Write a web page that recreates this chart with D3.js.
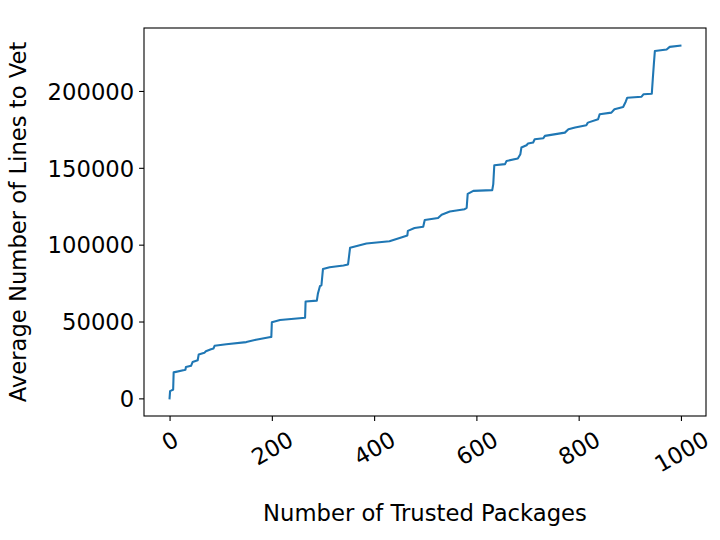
<!DOCTYPE html>
<html>
<head>
<meta charset="utf-8">
<script src="https://cdn.jsdelivr.net/npm/d3@7"></script>
<style>
  html, body { margin: 0; padding: 0; background: #fff; }
  svg text { font-family: "DejaVu Sans", sans-serif; fill: #000; }
</style>
</head>
<body>
<svg id="chart" width="720" height="540"></svg>
<script>
// Breakpoints of the cumulative step curve
const packages = [0, 1, 5, 7, 8, 29, 31, 32, 42, 45, 55, 57, 68, 71, 81, 86, 88, 111, 150, 169, 195, 199,
  200, 216, 265, 266, 288, 290, 294, 297, 300, 313, 340, 349, 353, 385, 430, 453, 465, 466, 479, 496,
  499, 525, 532, 548, 577, 581, 583, 594, 631, 633, 635, 656, 659, 681, 686, 688, 698, 701, 711, 714,
  731, 734, 773, 780, 793, 815, 818, 838, 841, 864, 870, 887, 892, 895, 923, 927, 943, 945, 947, 949,
  972, 978, 999];
const avgLines = [0, 4700, 5400, 5600, 16900, 18400, 18600, 20400, 21200, 23600, 24800, 28600, 29600, 30700, 32000, 32500, 34200, 35200, 36600, 38200, 39800, 40000,
  49500, 51000, 52400, 63000, 63600, 68000, 73000, 73600, 84200, 85300, 86500, 87100, 98000, 100800, 102200, 104700, 106000, 109000, 110800, 111700,
  116000, 117300, 119500, 121600, 123100, 124000, 133000, 135000, 135500, 139400, 151700, 152400, 154500, 156000, 158900, 163200, 164700, 165800, 166500, 168600,
  169300, 170800, 172900, 175100, 176200, 177700, 179400, 181600, 184800, 185900, 188100, 189600, 193000, 195600, 196300, 197900, 198200, 208000, 217300, 226000,
  227000, 228700, 229500];
const xTicks = [0, 200, 400, 600, 800, 1000];
const yTicks = [0, 50000, 100000, 150000, 200000];
const xLabel = "Number of Trusted Packages";
const yLabel = "Average Number of Lines to Vet";

const data = packages.map((p, i) => ({ x: p, y: avgLines[i] }));

const svg = d3.select("#chart");
const L = 144, R = 706, T = 28, B = 416;
const fs = 22.7;
const tickLen = 4.9, pad = 4.9;

const x = d3.scaleLinear().domain([-50, 1049]).range([L, R]);
const y = d3.scaleLinear().domain([-11475, 240975]).range([B, T]);

// line
svg.append("path")
  .datum(data)
  .attr("fill", "none")
  .attr("stroke", "#1f77b4")
  .attr("stroke-width", 2.08)
  .attr("stroke-linejoin", "round")
  .attr("stroke-linecap", "square")
  .attr("d", d3.line().x(d => x(d.x)).y(d => y(d.y)));

// frame
svg.append("rect")
  .attr("x", L).attr("y", T).attr("width", R - L).attr("height", B - T)
  .attr("fill", "none").attr("stroke", "#000").attr("stroke-width", 1.1);

// x axis ticks
const xAxis = svg.append("g").attr("transform", `translate(0,${B})`)
  .call(d3.axisBottom(x).tickValues(xTicks).tickSize(tickLen).tickPadding(pad).tickFormat(d3.format("d")));
xAxis.select(".domain").remove();
xAxis.selectAll(".tick line").attr("stroke", "#000").attr("stroke-width", 1.1);
xAxis.selectAll(".tick text").each(function(d) {
  const t = d3.select(this);
  t.attr("font-size", fs).attr("font-family", "DejaVu Sans").attr("fill", "#000")
   .attr("text-anchor", "middle").attr("dy", null).attr("y", null);
  const w = this.getComputedTextLength();
  const h = fs * 1.17;
  const rad = Math.PI / 6;
  const rh = w * Math.sin(rad) + h * Math.cos(rad);
  const cy = tickLen + pad + rh / 2;
  t.attr("dominant-baseline", "central")
   .attr("transform", `translate(0,${cy}) rotate(-30)`);
});

// y axis ticks
const yAxis = svg.append("g").attr("transform", `translate(${L},0)`)
  .call(d3.axisLeft(y).tickValues(yTicks).tickSize(tickLen).tickPadding(pad).tickFormat(d3.format("d")));
yAxis.select(".domain").remove();
yAxis.selectAll(".tick line").attr("stroke", "#000").attr("stroke-width", 1.1);
yAxis.selectAll(".tick text")
  .attr("font-size", fs).attr("font-family", "DejaVu Sans").attr("fill", "#000")
  .attr("dy", "0.36em");

// axis labels
svg.append("text")
  .attr("x", (L + R) / 2).attr("y", 521)
  .attr("text-anchor", "middle").attr("font-size", fs)
  .text(xLabel);
svg.append("text")
  .attr("transform", `translate(25.5,${(T + B) / 2}) rotate(-90)`)
  .attr("text-anchor", "middle").attr("font-size", fs)
  .text(yLabel);
</script>
</body>
</html>
